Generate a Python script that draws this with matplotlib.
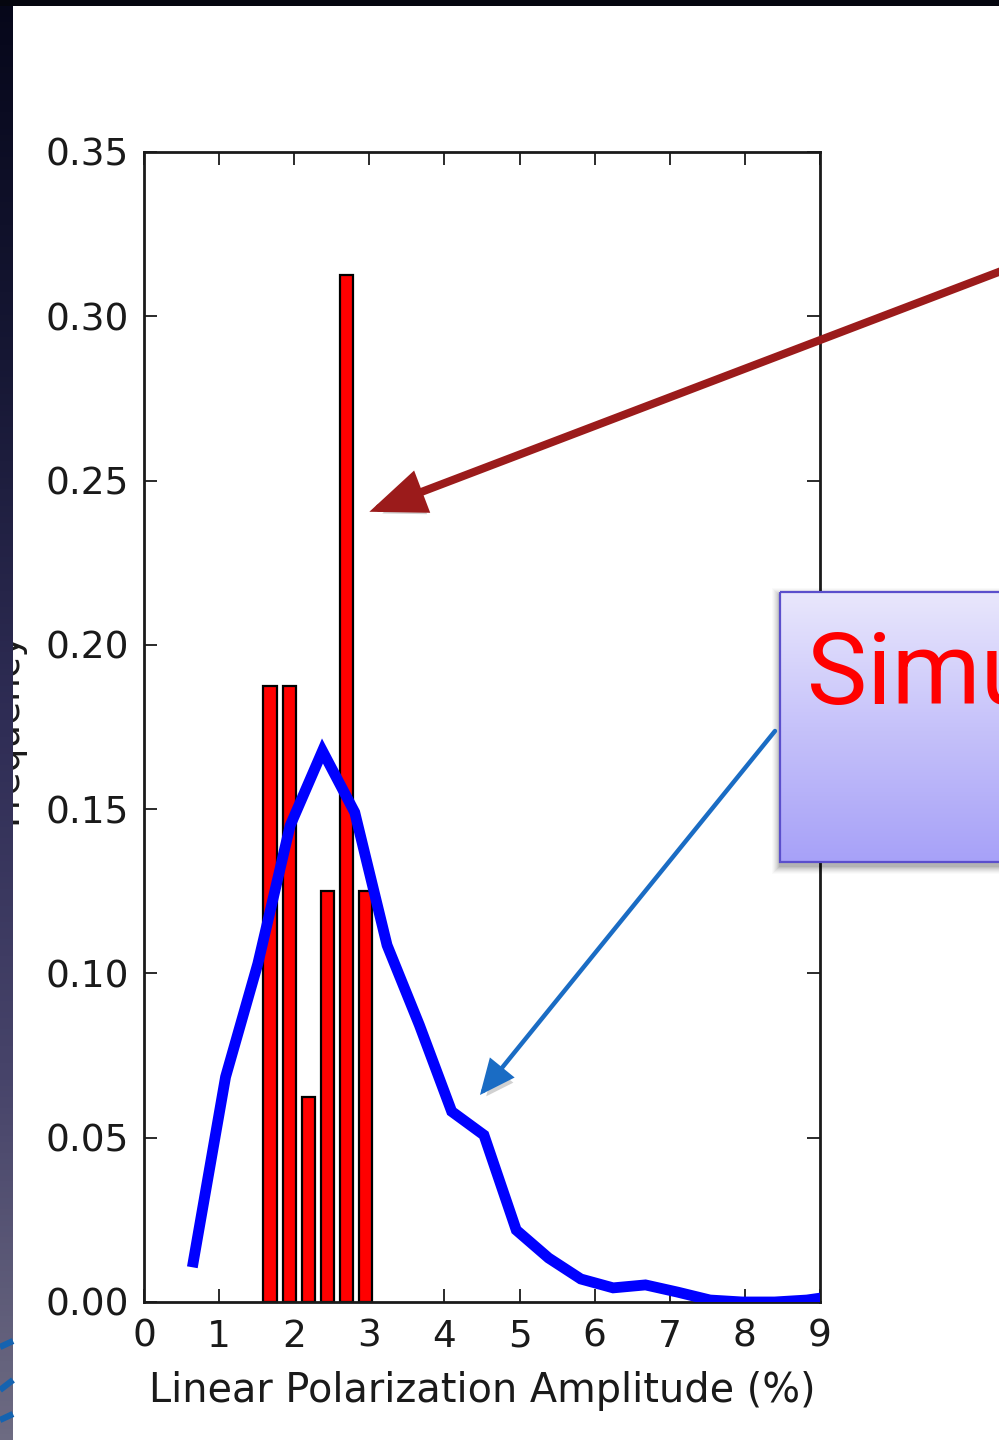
import numpy as np
import matplotlib
matplotlib.use("Agg")
import matplotlib.pyplot as plt
from matplotlib.patches import Rectangle
from matplotlib import patheffects as pe
from matplotlib.colors import LinearSegmentedColormap

# Observed sample: normalised counts per bin (bin centres in %)
obs_centers = [1.678, 1.933, 2.188, 2.443, 2.698, 2.953]
obs_freq = [0.1875, 0.1875, 0.0625, 0.125, 0.3125, 0.125]

# Simulated distribution: bin centres (%) and normalised frequency
sim_x = [0.656, 1.086, 1.516, 1.946, 2.376, 2.806, 3.236, 3.666, 4.096, 4.526,
         4.956, 5.386, 5.816, 6.246, 6.676, 7.106, 7.536, 7.966, 8.396, 8.826, 9.256]
sim_freq = [0.0122, 0.0685, 0.103, 0.145, 0.1677, 0.149, 0.1086, 0.0843, 0.058, 0.0508,
            0.0219, 0.0134, 0.0070, 0.0043, 0.0052, 0.0030, 0.0006, 0.0, 0.0, 0.0006, 0.0020]

x_ticks = [0, 1, 2, 3, 4, 5, 6, 7, 8, 9]
y_ticks = [0.00, 0.05, 0.10, 0.15, 0.20, 0.25, 0.30, 0.35]
xlabel_text = "Linear Polarization Amplitude (%)"
ylabel_text = "Frequency"
callout_text = "Simulation"

W, H = 999, 1440
fig = plt.figure(figsize=(W / 100, H / 100), dpi=100, facecolor="white")

# ---- main histogram panel ----
ax = fig.add_axes([144 / W, 1 - 1302 / H, 676 / W, 1150 / H], zorder=1)
ax.bar(obs_centers, obs_freq, width=0.175, color="#ff0000", edgecolor="black",
       linewidth=1.6, zorder=2)
ax.plot(sim_x, sim_freq, color="#0000ff", linewidth=7.8, zorder=3,
        solid_joinstyle="miter")
ax.set_xlim(0, 9)
ax.set_ylim(0, 0.35)
ax.set_xticks(x_ticks)
ax.set_yticks(y_ticks)
ax.set_yticklabels([f"{v:.2f}" for v in y_ticks])
ax.tick_params(direction="in", top=True, right=True, length=9.5, width=1.3,
               labelsize=27, colors="#1a1a1a")
ax.tick_params(axis="x", pad=12)
ax.tick_params(axis="y", pad=11)
for s in ax.spines.values():
    s.set_linewidth(2.0)
    s.set_color("#1a1a1a")
ax.set_xlabel(xlabel_text, fontsize=28.6, color="#1a1a1a", labelpad=12)

# ---- decoration layer in pixel coordinates (origin top-left) ----
deco = fig.add_axes([0, 0, 1, 1], zorder=10)
deco.set_xlim(0, W)
deco.set_ylim(H, 0)
deco.axis("off")
deco.patch.set_visible(False)

# y label, partly hidden under the dark slide border
deco.text(24, 727, ylabel_text, rotation=90, ha="right", va="center",
          fontsize=27, color="#1a1a1a", zorder=1)

# dark slide border: left strip with vertical gradient, thin top strip
border_cmap = LinearSegmentedColormap.from_list(
    "border", ["#06071a", "#161734", "#2f2d55", "#47446a", "#6d6b82"])
grad = np.linspace(0, 1, 256).reshape(-1, 1)
deco.imshow(grad, cmap=border_cmap, extent=(0, 13, H, 0), aspect="auto",
            origin="upper", zorder=2)
deco.add_patch(Rectangle((0, 0), W, 6, facecolor="#05060f", edgecolor="none", zorder=2))
for (x0, y0, x1, y1) in [(0, 1347, 13, 1341), (0, 1390, 13, 1380), (0, 1420, 13, 1414)]:
    deco.plot([x0, x1], [y0, y1], color="#1563b0", lw=4.5, solid_capstyle="butt", zorder=3)

# callout box with soft shadow and lavender gradient
bx, by, bw, bh = 779.5, 592, 240, 270
for k, a in zip(range(8, 0, -1), [0.02, 0.025, 0.03, 0.035, 0.04, 0.05, 0.06, 0.07]):
    deco.add_patch(Rectangle((bx - k, by - k + 4), bw + 2 * k, bh + 2 * k,
                             facecolor="#000000", edgecolor="none", alpha=a, zorder=4))
box_cmap = LinearSegmentedColormap.from_list("box", ["#e9e7fc", "#c6c2fa", "#a7a1f8"])
box_img = deco.imshow(grad, cmap=box_cmap, extent=(bx, bx + bw, by + bh, by),
                      aspect="auto", origin="upper", zorder=5)
box_rect = Rectangle((bx, by), bw, bh, facecolor="none", edgecolor="#5b4fcc",
                     linewidth=1.6, zorder=6)
deco.add_patch(box_rect)
box_img.set_clip_path(box_rect)
deco.text(807, 704, callout_text, fontsize=73, color="#ff0000", ha="left",
          va="baseline", family="Roboto", weight="normal", zorder=7)

# arrows pointing at the observed bars and the simulated curve
shadow = [pe.SimplePatchShadow(offset=(2, -4), shadow_rgbFace="#000000", alpha=0.18),
          pe.Normal()]
red_arrow = deco.annotate(
    "", xy=(3.0, 0.2405), xycoords=ax.transData,
    xytext=(1005, 269.6), textcoords=deco.transData,
    arrowprops=dict(arrowstyle="-|>,head_length=1.5,head_width=0.6",
                    mutation_scale=20, lw=5.8, color="#9b1b1b",
                    shrinkA=0, shrinkB=0, joinstyle="miter"), zorder=8)
red_arrow.arrow_patch.set_path_effects(shadow)
blue_arrow = deco.annotate(
    "", xy=(4.473, 0.063), xycoords=ax.transData,
    xytext=(775, 731), textcoords=deco.transData,
    arrowprops=dict(arrowstyle="-|>,head_length=1.0,head_width=0.45",
                    mutation_scale=20, lw=3.2, color="#1a6cc4",
                    shrinkA=0, shrinkB=0, joinstyle="miter"), zorder=8)
blue_arrow.arrow_patch.set_path_effects(shadow)

fig.savefig("out.png", dpi=100, facecolor="white")
